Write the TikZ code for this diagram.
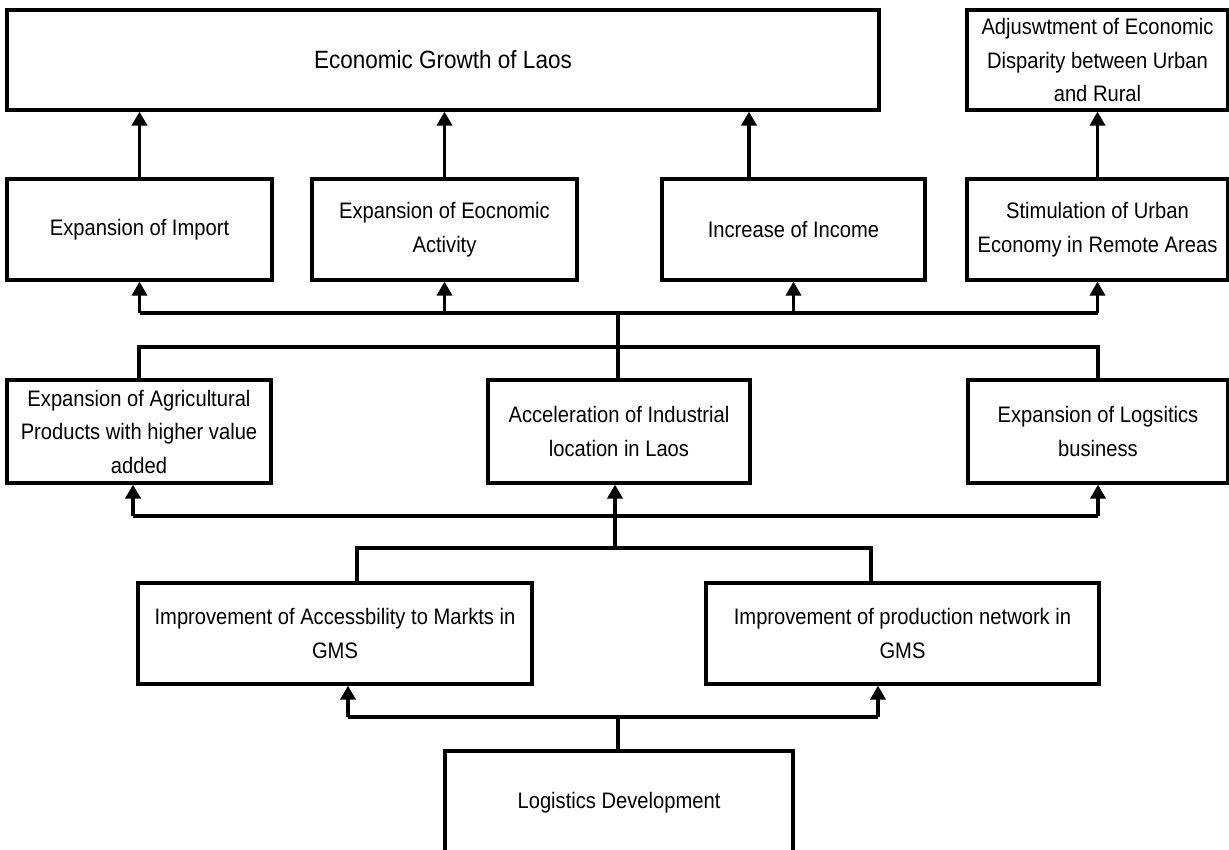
\documentclass[tikz,border=0pt]{standalone}
\usepackage{fontspec}
\setmainfont[FakeStretch=0.9]{Liberation Sans}
\usetikzlibrary{arrows.meta}

\tikzset{
  box/.style={draw, line width=3.2pt, inner sep=0pt, align=center,
    font=\fontsize{22.4pt}{33.5pt}\selectfont},
  wire/.style={line width=3.6pt},
  arr/.style={wire, -{Triangle[width=15pt,length=14pt]}}
}

\begin{document}
\begin{tikzpicture}[x=1pt,y=-1pt]
\useasboundingbox (0,0) rectangle (1229,850);
\clip (0,0) rectangle (1229,850);

% top row
\node[box, minimum width=872pt, minimum height=100pt,
      font=\fontsize{25pt}{34pt}\selectfont] (growth) at (443,60) {Economic Growth of Laos};
\node[box, minimum width=261pt, minimum height=100pt] (adjust) at (1097.5,60)
  {Adjuswtment of Economic\\Disparity between Urban\\and Rural};

% second row
\node[box, minimum width=265pt, minimum height=101pt] (import) at (139.5,229.5) {Expansion of Import};
\node[box, minimum width=265pt, minimum height=101pt] (activity) at (444.5,229.5) {Expansion of Eocnomic\\Activity};
\node[box, minimum width=263pt, minimum height=101pt] (income) at (793.5,229.5) {Increase of Income};
\node[box, minimum width=261pt, minimum height=101pt] (urban) at (1097.5,229.5) {Stimulation of Urban\\Economy in Remote Areas};

% third row
\node[box, minimum width=264pt, minimum height=103pt] (agri) at (139,431.5)
  {Expansion of Agricultural\\Products with higher value\\added};
\node[box, minimum width=262pt, minimum height=103pt] (industry) at (619,431.5)
  {Acceleration of Industrial\\location in Laos};
\node[box, minimum width=260pt, minimum height=103pt] (business) at (1098,431.5)
  {Expansion of Logsitics\\business};

% fourth row
\node[box, minimum width=394pt, minimum height=101pt] (access) at (335,633.5)
  {Improvement of Accessbility to Markts in\\GMS};
\node[box, minimum width=393pt, minimum height=101pt] (network) at (902.5,633.5)
  {Improvement of production network in\\GMS};

% root, open at the bottom edge
\node[box, minimum width=348pt, minimum height=104pt] (logistics) at (619,803) {Logistics Development};

% second row -> top row
\draw[arr] (import.north) -- (import.north |- growth.south);
\draw[arr] (activity.north) -- (activity.north |- growth.south);
\draw[arr] ([xshift=-44.5pt]income.north) -- ([xshift=-44.5pt]income.north |- growth.south);
\draw[arr] (urban.north) -- (adjust.south);

% third row -> second row
\coordinate (busA) at (618,313);
\coordinate (busB) at (618,347);
\draw[wire] (import.south |- busA) -- (urban.south |- busA);
\draw[arr] (import.south |- busA) -- (import.south);
\draw[arr] (activity.south |- busA) -- (activity.south);
\draw[arr] (income.south |- busA) -- (income.south);
\draw[arr] (urban.south |- busA) -- (urban.south);
\draw[wire] (busA) -- (busA |- industry.north);
\draw[wire] (agri.north) -- (agri.north |- busB) -- (business.north |- busB) -- (business.north);

% fourth row -> third row
\coordinate (busC) at (615,516);
\coordinate (busD) at (615,548);
\draw[wire] ([xshift=-6pt]agri.south |- busC) -- (business.south |- busC);
\draw[arr] ([xshift=-6pt]agri.south |- busC) -- ([xshift=-6pt]agri.south);
\draw[arr] (busC) -- (busC |- industry.south);
\draw[arr] (business.south |- busC) -- (business.south);
\draw[wire] (busC) -- (busD);
\draw[wire] ([xshift=22pt]access.north) -- ([xshift=22pt]access.north |- busD)
  -- ([xshift=-31.5pt]network.north |- busD) -- ([xshift=-31.5pt]network.north);

% root -> fourth row
\coordinate (busE) at (618,717);
\draw[wire] ([xshift=13pt]access.south |- busE) -- ([xshift=-24.5pt]network.south |- busE);
\draw[arr] ([xshift=13pt]access.south |- busE) -- ([xshift=13pt]access.south);
\draw[arr] ([xshift=-24.5pt]network.south |- busE) -- ([xshift=-24.5pt]network.south);
\draw[wire] (busE) -- (busE |- logistics.north);
\end{tikzpicture}
\end{document}
